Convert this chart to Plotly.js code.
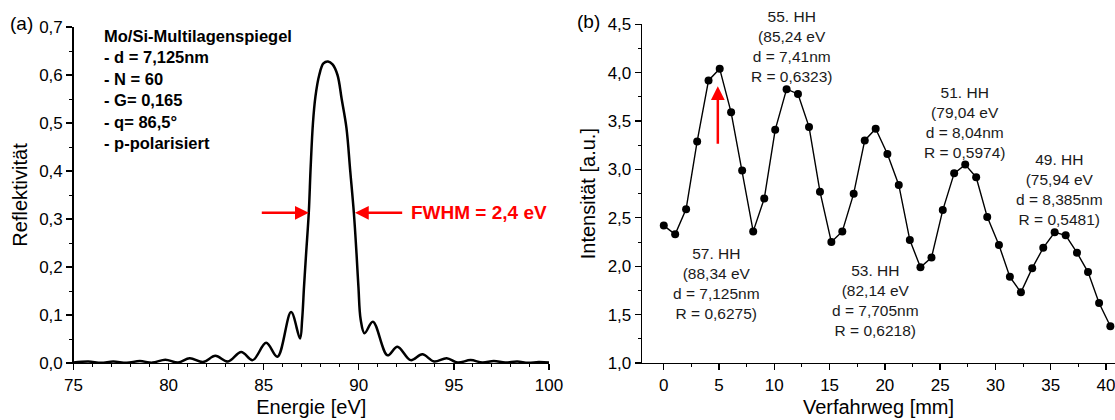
<!DOCTYPE html>
<html>
<head>
<meta charset="utf-8">
<script src="https://cdn.plot.ly/plotly-3.0.1.min.js"></script>
<style>
html,body{margin:0;padding:0;background:#fff;}
#chart{width:1115px;height:420px;}
</style>
</head>
<body>
<div id="chart"></div>
<script>
// (a) simulated reflectivity of the Mo/Si multilayer mirror
const energy = [75.0, 75.78, 76.45, 77.09, 77.8, 78.49, 79.15, 79.83, 80.5, 81.11, 81.81, 82.46, 83.12, 83.82, 84.42, 85.13, 85.72, 86.44, 86.91, 87.02, 87.12, 87.23, 87.37, 87.47, 87.59, 87.72, 87.92, 88.14, 88.38, 88.62, 88.88, 89.10, 89.35, 89.55, 89.74, 89.88, 89.98, 90.10, 90.30, 90.74, 91.51, 92.03, 92.73, 93.34, 93.96, 94.62, 95.2, 95.88, 96.5, 97.10, 97.7, 98.33, 98.9, 99.46, 100.0];
const reflectivity = [0.001, 0.003, 0.0005, 0.003, 0.0005, 0.004, 0.0008, 0.007, 0.001, 0.010, 0.002, 0.015, 0.003, 0.023, 0.006, 0.042, 0.013, 0.106, 0.051, 0.090, 0.159, 0.228, 0.313, 0.409, 0.500, 0.555, 0.600, 0.624, 0.628, 0.622, 0.600, 0.550, 0.490, 0.400, 0.313, 0.228, 0.159, 0.090, 0.062, 0.086, 0.016, 0.034, 0.006, 0.018, 0.003, 0.010, 0.001, 0.006, 0.001, 0.004, 0.001, 0.003, 0.0005, 0.002, 0.001];

// (b) measured intensity vs. travel distance
const travel = [0, 1.03, 2.02, 3.02, 4.05, 5.06, 6.09, 7.09, 8.09, 9.09, 10.08, 11.11, 12.14, 13.14, 14.13, 15.16, 16.15, 17.18, 18.18, 19.17, 20.23, 21.26, 22.26, 23.22, 24.22, 25.24, 26.27, 27.27, 28.26, 29.26, 30.32, 31.31, 32.31, 33.33, 34.33, 35.36, 36.36, 37.38, 38.38, 39.38, 40.40];
const intensity = [2.42, 2.33, 2.59, 3.29, 3.92, 4.04, 3.59, 2.99, 2.36, 2.70, 3.41, 3.83, 3.78, 3.44, 2.77, 2.25, 2.36, 2.75, 3.30, 3.42, 3.16, 2.84, 2.27, 1.99, 2.09, 2.58, 2.96, 3.05, 2.92, 2.51, 2.22, 1.89, 1.73, 1.98, 2.19, 2.35, 2.32, 2.14, 1.94, 1.62, 1.38];

// harmonic labels in (b)
const hhLabels = [
  "55. HH<br>(85,24 eV<br>d = 7,41nm<br>R = 0,6323)",
  "57. HH<br>(88,34 eV<br>d = 7,125nm<br>R = 0,6275)",
  "53. HH<br>(82,14 eV<br>d = 7,705nm<br>R = 0,6218)",
  "51. HH<br>(79,04 eV<br>d = 8,04nm<br>R = 0,5974)",
  "49. HH<br>(75,94 eV<br>d = 8,385nm<br>R = 0,5481)"
];
const hhX = [11.57, 4.76, 19.18, 27.2, 35.82];
const hhY = [4.27, 1.82, 1.648, 3.49, 2.79];

const mirrorInfo = "<b>Mo/Si-Multilagenspiegel<br>- d = 7,125nm<br>- N = 60<br>- G= 0,165<br>- q= 86,5°<br>- p-polarisiert</b>";
const fwhmText = "<b>FWHM = 2,4 eV</b>";

const FONT = "Arial, 'Liberation Sans', sans-serif";
const W = 1115, H = 420;

const traces = [
  {x: energy, y: reflectivity, xaxis: 'x', yaxis: 'y', mode: 'lines',
   line: {color: '#000', width: 2.5, shape: 'spline', smoothing: 1}, hoverinfo: 'skip'},
  {x: travel, y: intensity, xaxis: 'x2', yaxis: 'y2', mode: 'lines+markers',
   line: {color: '#000', width: 1.4}, marker: {color: '#000', size: 8}, hoverinfo: 'skip'}
];

function axisBase() {
  return {
    showline: true, linecolor: '#000', linewidth: 1.3,
    ticks: 'outside', ticklen: 6, tickwidth: 1.3, tickcolor: '#000',
    showgrid: false, zeroline: false, automargin: false,
    ticklabeloverflow: 'allow',
    tickfont: {family: FONT, size: 17, color: '#000'}
  };
}

const layout = {
  width: W, height: H,
  margin: {l: 0, r: 0, t: 0, b: 0},
  paper_bgcolor: '#fff', plot_bgcolor: '#fff',
  separators: ',.',
  showlegend: false,
  font: {family: FONT, size: 17, color: '#000'},
  xaxis: Object.assign(axisBase(), {
    domain: [73.5 / W, 549 / W], range: [75, 100], tick0: 75, dtick: 5, anchor: 'y',
    minor: {ticks: 'outside', dtick: 1, ticklen: 3, tickwidth: 1, tickcolor: '#000'},
    title: {text: 'Energie [eV]', font: {family: FONT, size: 20, color: '#000'}, standoff: 6}
  }),
  yaxis: Object.assign(axisBase(), {
    domain: [(H - 363) / H, (H - 27) / H], range: [0, 0.7], tick0: 0, dtick: 0.1, tickformat: '.1f', anchor: 'x',
    minor: {ticks: 'outside', dtick: 0.05, ticklen: 3, tickwidth: 1, tickcolor: '#000'},
    title: {text: 'Reflektivität', font: {family: FONT, size: 20, color: '#000'}, standoff: 6}
  }),
  xaxis2: Object.assign(axisBase(), {
    domain: [642 / W, 1], range: [-1.97, 40.82], tick0: 0, dtick: 5, anchor: 'y2',
    minor: {ticks: 'outside', dtick: 2.5, ticklen: 3, tickwidth: 1, tickcolor: '#000'},
    title: {text: 'Verfahrweg [mm]', font: {family: FONT, size: 20, color: '#000'}, standoff: 6}
  }),
  yaxis2: Object.assign(axisBase(), {
    domain: [(H - 363) / H, (H - 24.3) / H], range: [1, 4.5], tick0: 1, dtick: 0.5, tickformat: '.1f', anchor: 'x2',
    minor: {ticks: 'outside', dtick: 0.25, ticklen: 3, tickwidth: 1, tickcolor: '#000'},
    title: {text: 'Intensität [a.u.]', font: {family: FONT, size: 20, color: '#000'}, standoff: 6}
  }),
  annotations: []
};

// panel letters
layout.annotations.push({xref: 'paper', yref: 'paper', x: 21.7 / W, y: (H - 23) / H, text: '(a)', showarrow: false,
  xanchor: 'center', yanchor: 'middle', font: {family: FONT, size: 19, color: '#000'}});
layout.annotations.push({xref: 'paper', yref: 'paper', x: 588 / W, y: (H - 21.7) / H, text: '(b)', showarrow: false,
  xanchor: 'center', yanchor: 'middle', font: {family: FONT, size: 19, color: '#000'}});

// mirror info text box
layout.annotations.push({xref: 'x', yref: 'y', x: 76.48, y: 0.569, text: mirrorInfo, showarrow: false,
  xanchor: 'left', yanchor: 'middle', align: 'left', font: {family: FONT, size: 16.5, color: '#000'}});

// FWHM arrows + label
layout.annotations.push({xref: 'x', yref: 'y', axref: 'x', ayref: 'y', x: 87.37, y: 0.313, ax: 84.82, ay: 0.313,
  text: '', showarrow: true, arrowhead: 2, arrowsize: 1.1, arrowwidth: 2.5, arrowcolor: '#ff0000'});
layout.annotations.push({xref: 'x', yref: 'y', axref: 'x', ayref: 'y', x: 89.80, y: 0.313, ax: 92.36, ay: 0.313,
  text: '', showarrow: true, arrowhead: 2, arrowsize: 1.1, arrowwidth: 2.5, arrowcolor: '#ff0000'});
layout.annotations.push({xref: 'x', yref: 'y', x: 92.65, y: 0.313, text: fwhmText, showarrow: false,
  xanchor: 'left', yanchor: 'middle', font: {family: FONT, size: 19, color: '#ff0000'}});

// red arrow in (b)
layout.annotations.push({xref: 'x2', yref: 'y2', axref: 'x2', ayref: 'y2', x: 4.89, y: 3.86, ax: 4.89, ay: 3.25,
  text: '', showarrow: true, arrowhead: 2, arrowsize: 1.1, arrowwidth: 2.5, arrowcolor: '#ff0000'});

// harmonic labels
for (let i = 0; i < hhLabels.length; i++) {
  layout.annotations.push({xref: 'x2', yref: 'y2', x: hhX[i], y: hhY[i], text: hhLabels[i], showarrow: false,
    xanchor: 'center', yanchor: 'middle', align: 'center', font: {family: FONT, size: 15.5, color: '#1a1a1a'}});
}

Plotly.newPlot('chart', traces, layout, {staticPlot: true, displayModeBar: false});
</script>
</body>
</html>
